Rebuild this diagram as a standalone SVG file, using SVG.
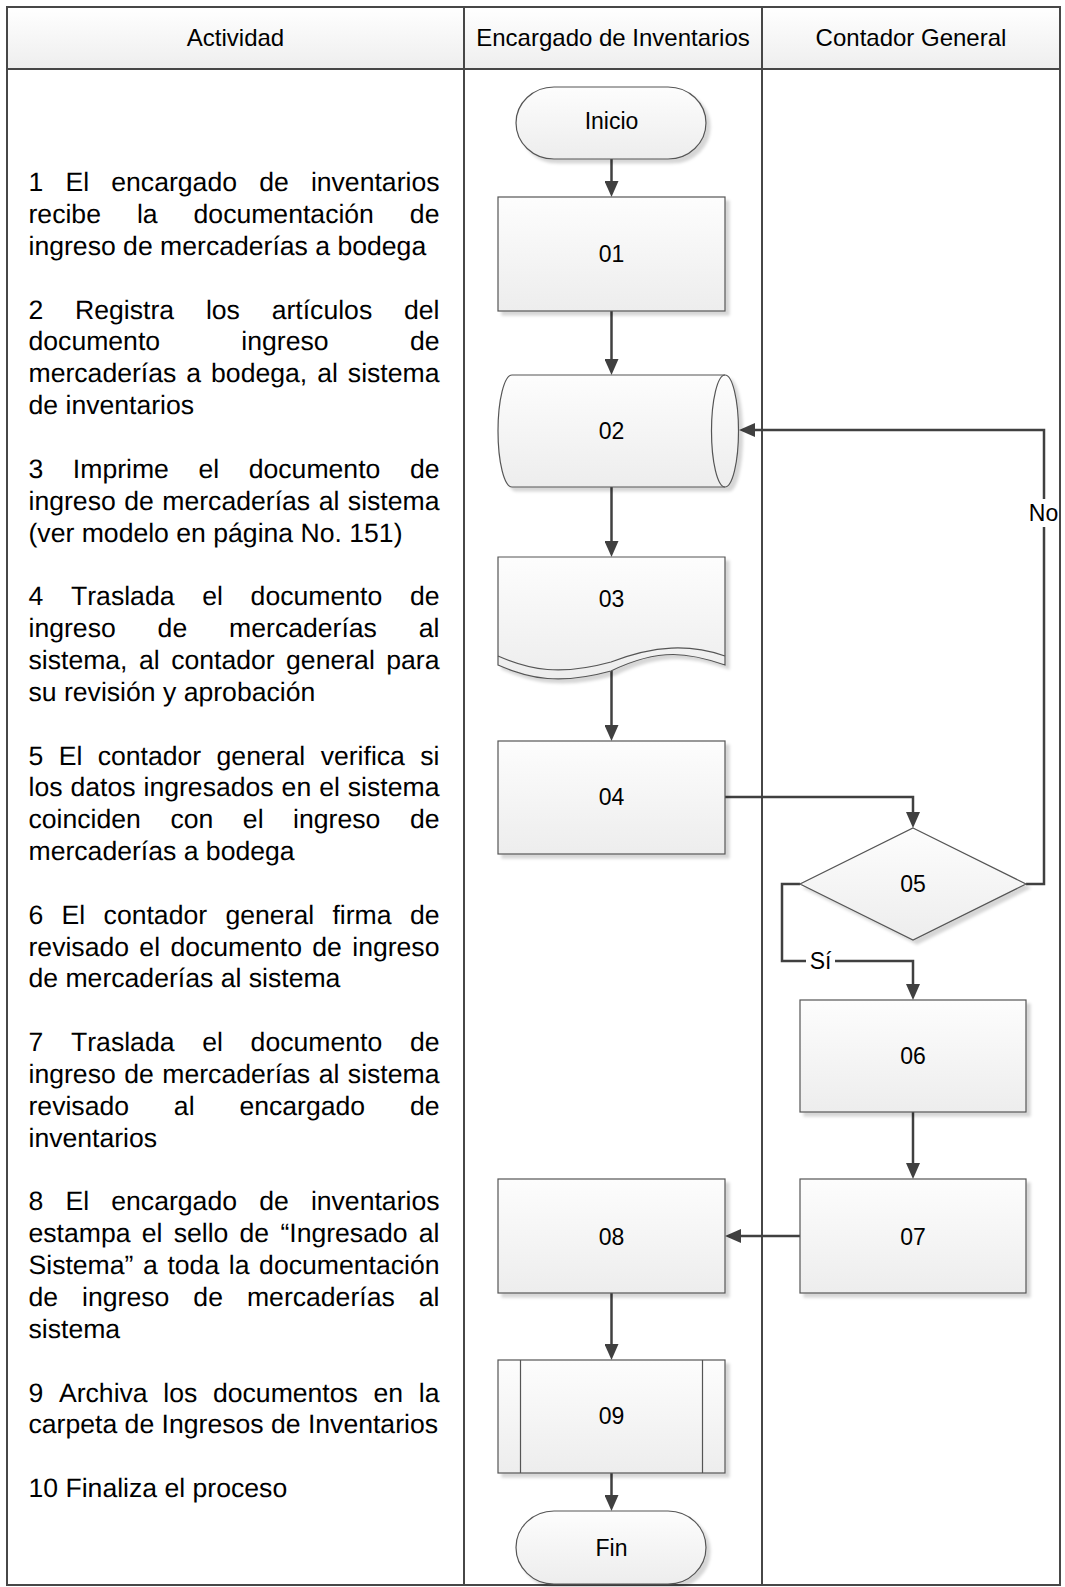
<svg xmlns="http://www.w3.org/2000/svg" width="1065" height="1587" viewBox="0 0 1065 1587">
  <defs>
    <linearGradient id="nodeFill" x1="0" y1="0" x2="0" y2="1">
      <stop offset="0" stop-color="#fdfdfd"/>
      <stop offset="1" stop-color="#ededed"/>
    </linearGradient>
    <linearGradient id="headFill" x1="0" y1="0" x2="0" y2="1">
      <stop offset="0" stop-color="#ffffff"/>
      <stop offset="1" stop-color="#eeeeee"/>
    </linearGradient>
    <filter id="shadow" x="-10%" y="-10%" width="130%" height="130%">
      <feDropShadow dx="4" dy="4" stdDeviation="1.5" flood-color="#000" flood-opacity="0.16"/>
    </filter>
    <marker id="arrow" markerUnits="userSpaceOnUse" markerWidth="17" markerHeight="14" refX="1" refY="7" orient="auto">
      <path d="M0,0 L16,7 L0,14 Z" fill="#404040"/>
    </marker>
    <style>
      .frame { fill: none; stroke: #474747; stroke-width: 2; }
      .node { fill: url(#nodeFill); stroke: #555555; stroke-width: 1.2; filter: url(#shadow); }
      .inner { fill: none; stroke: #555555; stroke-width: 1.2; }
      .lbl { font-family: "Liberation Sans", Arial, sans-serif; font-size: 23px; fill: #000; text-anchor: middle; }
      .head { font-family: "Liberation Sans", Arial, sans-serif; font-size: 24px; fill: #000; text-anchor: middle; }
      .act { font-family: "Liberation Sans", Arial, sans-serif; font-size: 26.6px; fill: #000; font-kerning: none; text-rendering: geometricPrecision; }
      .conn { fill: none; stroke: #404040; stroke-width: 2.5; marker-end: url(#arrow); }
      .tag { fill: #ffffff; stroke: none; }
    </style>
  </defs>

  <!-- swimlane table -->
  <g id="lanes">
    <rect x="7" y="7" width="1053" height="62" fill="url(#headFill)"/>
    <rect class="frame" x="7" y="7" width="1053" height="1578"/>
    <line class="frame" x1="7" y1="69" x2="1060" y2="69"/>
    <line class="frame" x1="464" y1="7" x2="464" y2="1585"/>
    <line class="frame" x1="762" y1="7" x2="762" y2="1585"/>
    <text class="head" x="235.5" y="46">Actividad</text>
    <text class="head" x="613" y="46">Encargado de Inventarios</text>
    <text class="head" x="911" y="46">Contador General</text>
  </g>

  <!-- activity descriptions (justified column) -->
  <g id="activities" class="act">
    <text x="28.5" y="191.2" style="word-spacing:14.78px">1 El encargado de inventarios</text>
    <text x="28.5" y="223.05" style="word-spacing:28.57px">recibe la documentación de</text>
    <text x="28.5" y="254.9">ingreso de mercaderías a bodega</text>

    <text x="28.5" y="318.6" style="word-spacing:24.4px">2 Registra los artículos del</text>
    <text x="28.5" y="350.45" style="word-spacing:73.9px">documento ingreso de</text>
    <text x="28.5" y="382.3" style="word-spacing:2.6px">mercaderías a bodega, al sistema</text>
    <text x="28.5" y="414.15">de inventarios</text>

    <text x="28.5" y="477.85" style="word-spacing:22.18px">3 Imprime el documento de</text>
    <text x="28.5" y="509.7" style="word-spacing:1.12px">ingreso de mercaderías al sistema</text>
    <text x="28.5" y="541.55">(ver modelo en página No. 151)</text>

    <text x="28.5" y="605.25" style="word-spacing:20.33px">4 Traslada el documento de</text>
    <text x="28.5" y="637.1" style="word-spacing:34.5px">ingreso de mercaderías al</text>
    <text x="28.5" y="668.95" style="word-spacing:4.07px">sistema, al contador general para</text>
    <text x="28.5" y="700.8">su revisión y aprobación</text>

    <text x="28.5" y="764.5" style="word-spacing:7.99px">5 El contador general verifica si</text>
    <text x="28.5" y="796.35" style="word-spacing:0.59px">los datos ingresados en el sistema</text>
    <text x="28.5" y="828.2" style="word-spacing:22.17px">coinciden con el ingreso de</text>
    <text x="28.5" y="860.05">mercaderías a bodega</text>

    <text x="28.5" y="923.75" style="word-spacing:10.94px">6 El contador general firma de</text>
    <text x="28.5" y="955.6" style="word-spacing:2.95px">revisado el documento de ingreso</text>
    <text x="28.5" y="987.45">de mercaderías al sistema</text>

    <text x="28.5" y="1051.15" style="word-spacing:20.33px">7 Traslada el documento de</text>
    <text x="28.5" y="1083" style="word-spacing:1.12px">ingreso de mercaderías al sistema</text>
    <text x="28.5" y="1114.85" style="word-spacing:37.45px">revisado al encargado de</text>
    <text x="28.5" y="1146.7">inventarios</text>

    <text x="28.5" y="1210.4" style="word-spacing:14.78px">8 El encargado de inventarios</text>
    <text x="28.5" y="1242.25" style="word-spacing:3.84px">estampa el sello de “Ingresado al</text>
    <text x="28.5" y="1274.1" style="word-spacing:2.22px">Sistema” a toda la documentación</text>
    <text x="28.5" y="1305.95" style="word-spacing:16.63px">de ingreso de mercaderías al</text>
    <text x="28.5" y="1337.8">sistema</text>

    <text x="28.5" y="1401.5" style="word-spacing:8.28px">9 Archiva los documentos en la</text>
    <text x="28.5" y="1433.35">carpeta de Ingresos de Inventarios</text>

    <text x="28.5" y="1497.05">10 Finaliza el proceso</text>
  </g>

  <!-- connectors -->
  <g id="connectors">
    <path class="conn" d="M611.5,159 V182"/>
    <path class="conn" d="M611.5,311 V360"/>
    <path class="conn" d="M611.5,487 V542"/>
    <path class="conn" d="M611.5,671 V726"/>
    <path class="conn" d="M725,797 H913 V813"/>
    <path class="conn" d="M1026,884 H1044 V430 H754"/>
    <path class="conn" d="M800,884 H782 V961 H913 V985"/>
    <path class="conn" d="M913,1112 V1164"/>
    <path class="conn" d="M800,1236 H740"/>
    <path class="conn" d="M611.5,1293 V1345"/>
    <path class="conn" d="M611.5,1473 V1496"/>
    <rect class="tag" x="1029" y="499" width="30" height="28"/>
    <text class="lbl" x="1043.5" y="521">No</text>
    <rect class="tag" x="806" y="949" width="29" height="24"/>
    <text class="lbl" x="820.5" y="969">Sí</text>
  </g>

  <!-- nodes -->
  <g id="inicio">
    <path class="node" d="M554,87 H668 A38,36 0 0 1 668,159 H554 A38,36 0 0 1 554,87 Z"/>
    <text class="lbl" x="611.5" y="129">Inicio</text>
  </g>
  <g id="n01">
    <rect class="node" x="498" y="197" width="227" height="114"/>
    <text class="lbl" x="611.5" y="262">01</text>
  </g>
  <g id="n02">
    <path class="node" d="M512,375 H725 A13.5,56 0 0 1 725,487 H512 A14,56 0 0 1 512,375 Z"/>
    <path class="inner" d="M725,375 A13.5,56 0 0 0 725,487"/>
    <text class="lbl" x="611.5" y="439">02</text>
  </g>
  <g id="n03">
    <path class="node" d="M498,557 H725 V665 C690,653 660,647 611,671 C560,685 530,679 498,665 Z"/>
    <path class="inner" d="M498,656 C530,670 560,676 611,662 C655,645 690,644 725,656"/>
    <text class="lbl" x="611.5" y="607">03</text>
  </g>
  <g id="n04">
    <rect class="node" x="498" y="741" width="227" height="113"/>
    <text class="lbl" x="611.5" y="805">04</text>
  </g>
  <g id="n05">
    <path class="node" d="M913,828 L1026,884 L913,940 L800,884 Z"/>
    <text class="lbl" x="913" y="892">05</text>
  </g>
  <g id="n06">
    <rect class="node" x="800" y="1000" width="226" height="112"/>
    <text class="lbl" x="913" y="1064">06</text>
  </g>
  <g id="n07">
    <rect class="node" x="800" y="1179" width="226" height="114"/>
    <text class="lbl" x="913" y="1245">07</text>
  </g>
  <g id="n08">
    <rect class="node" x="498" y="1179" width="227" height="114"/>
    <text class="lbl" x="611.5" y="1245">08</text>
  </g>
  <g id="n09">
    <rect class="node" x="498" y="1360" width="227" height="113"/>
    <line class="inner" x1="520.5" y1="1360" x2="520.5" y2="1473"/>
    <line class="inner" x1="702.5" y1="1360" x2="702.5" y2="1473"/>
    <text class="lbl" x="611.5" y="1424">09</text>
  </g>
  <g id="fin">
    <path class="node" d="M554,1511 H668 A38,36.5 0 0 1 668,1584 H554 A38,36.5 0 0 1 554,1511 Z"/>
    <text class="lbl" x="611.5" y="1556">Fin</text>
  </g>
</svg>
